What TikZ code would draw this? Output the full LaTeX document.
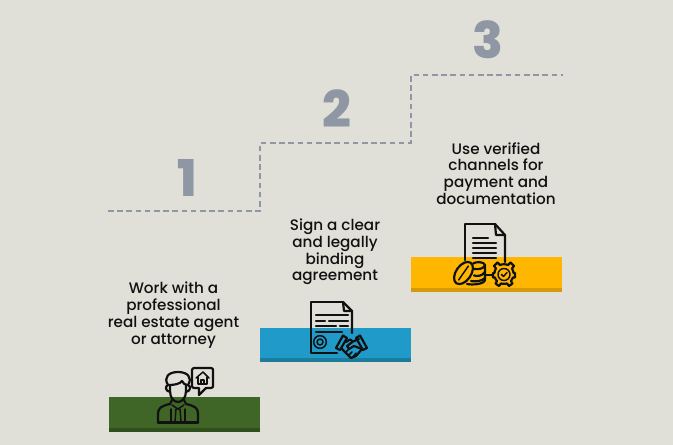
\documentclass[tikz,border=0pt]{standalone}
\usepackage{fontspec}
\setmainfont{Poppins Medium}[BoldFont={Poppins ExtraBold}]
\definecolor{bg}{HTML}{E0E0D8}
\definecolor{numgray}{HTML}{8E97A3}
\definecolor{ink}{HTML}{111111}
\definecolor{greenA}{HTML}{3F6527}
\definecolor{greenB}{HTML}{2F4F1D}
\definecolor{blueA}{HTML}{209AC8}
\definecolor{blueB}{HTML}{1C7C9C}
\definecolor{yellA}{HTML}{FFB600}
\definecolor{yellB}{HTML}{D49A0C}
\tikzset{
  x=0.75pt,y=-0.75pt,
  label text/.style={align=center,inner sep=0pt,text=ink,font=\fontsize{11.4pt}{12.6pt}\selectfont},
  big num/.style={inner sep=0pt,text=numgray,font=\fontsize{38pt}{40pt}\selectfont\bfseries},
  stair/.style={draw=numgray,line width=1.1pt,dash pattern=on 4.2pt off 2.7pt},
  bar/.style={inner sep=0pt,minimum width=113.25pt,anchor=north west},
  icon/.style={draw=ink,line width=1.65pt,line join=round,line cap=round},
  thin icon/.style={draw=ink,line width=1.1pt,line join=round,line cap=round},
}
\begin{document}
\begin{tikzpicture}
\useasboundingbox (0,0) rectangle (673,445);
\fill[bg] (0,0) rectangle (673,445);
% stairs
\coordinate (s0) at (108,211);
\coordinate (s1) at (260,211);
\coordinate (s2) at (260,143);
\coordinate (s3) at (411,143);
\coordinate (s4) at (411,75);
\coordinate (s5) at (563,75);
\draw[stair] (s0) -- (s1) -- (s2) -- (s3) -- (s4) -- (s5);
% numbers
\node[big num] (n1) at (187,178) {1};
\node[big num] (n2) at (337,109) {2};
\node[big num] (n3) at (488,40) {3};
% labels
\node[label text] (t1) at (173.5,315) {Work with a\\professional\\real estate agent\\or attorney};
\node[label text] (t2) at (335,252) {Sign a clear\\and legally\\binding\\agreement};
\node[label text] (t3) at (496,173.5) {Use verified\\channels for\\payment and\\documentation};
% bars
\node[bar,fill=greenA,minimum height=26.25pt] (b1) at (109,397) {};
\fill[greenB] (109,428) rectangle (260,432);
\node[bar,fill=blueA,minimum height=25.5pt] (b2) at (260,328) {};
\fill[blueB] (260,358) rectangle (411,362);
\node[bar,fill=yellA,minimum height=26.25pt] (b3) at (411,257) {};
\fill[yellB] (411,288) rectangle (562,292);
% person icon
\draw[icon] (158,422.5) -- (158,414) .. controls (158,408) and (161,406) .. (170,404) -- (172,400);
\draw[icon] (198,422.5) -- (198,414) .. controls (198,408) and (195,406) .. (186,404) -- (184,400);
\draw[icon] (158,422.5) -- (198,422.5);
\draw[icon] (170,385) -- (170,391) .. controls (170,398) and (174,402) .. (178,402) .. controls (182,402) and (186,398) .. (186,391) -- (186,385);
\draw[icon] (170,392) .. controls (165,391) and (165,386) .. (168,385) .. controls (163,377) and (169,372) .. (178,372) .. controls (187,372) and (193,377) .. (188,385) .. controls (191,386) and (191,391) .. (186,392);
\draw[icon] (169,385) .. controls (174,385) and (180,384) .. (182,381) .. controls (183,383) and (185,385) .. (187,385);
\draw[thin icon] (172,405) -- (178,409) -- (184,405);
\draw[thin icon] (176,409) -- (180,409) -- (181,422) -- (175,422) -- cycle;
\draw[thin icon] (171,409) -- (171,422);
\draw[thin icon] (185,409) -- (185,422);
% speech bubble with house
\draw[icon] (194,368) -- (211,368) .. controls (212.5,368) and (213,369) .. (213,370) -- (213,386) .. controls (213,387) and (212.5,388) .. (211,388) -- (206,388) -- (199,395) -- (199,388) -- (194,388) .. controls (193,388) and (192,387) .. (192,386) -- (192,370) .. controls (192,369) and (193,368) .. (194,368) -- cycle;
\draw[thin icon] (196,378) -- (203,372) -- (209,378);
\draw[thin icon] (198,377) -- (198,384) -- (207,384) -- (207,377);
\draw[thin icon] (201,384) -- (201,380) -- (204,380) -- (204,384);
% contract icon
\draw[icon] (343,302) -- (311,302) -- (311,353) -- (337,353);
\draw[icon] (343,302) -- (352,311) -- (352,333);
\draw[icon] (343,302) -- (344,311) -- (352,311);
\draw[icon] (316,315) -- (348,315);
\draw[icon] (316,321) -- (325,321) (329,321) -- (348,321);
\draw[icon] (316,326) -- (336,326) (340,326) -- (348,326);
\draw[icon] (316,332) -- (342,332);
\node[circle,draw=ink,line width=1.1pt,minimum size=9.5pt,inner sep=0pt] (seal) at (320,342) {};
\draw[thin icon] (320,342) circle (3);
% handshake
\draw[icon] (336,348) -- (343,335.5) -- (347,338) -- (340,350) -- cycle;
\draw[icon] (367,348) -- (360,335.5) -- (356,338) -- (363,350) -- cycle;
\draw[icon] (346,342) -- (350,339.5) -- (353,341.5) -- (359,339);
\draw[icon] (353,341.5) -- (347,346) -- (349,349) -- (354,346) -- (362,349);
\draw[icon] (342,349) -- (351,358) -- (356,356) -- (362,349);
\draw[thin icon] (346,352) -- (349,349) (349,355) -- (352,352) (353,357) -- (356,353);
% document icon
\draw[icon] (495,224) -- (465,224) -- (465,260);
\draw[icon] (495,224) -- (505,235) -- (505,262);
\draw[icon] (495,224) -- (496,235) -- (505,235);
\draw[icon] (473,238) -- (488,238);
\draw[icon] (473,243) -- (496,243);
\draw[icon] (473,248) -- (496,248);
\draw[icon] (473,253) -- (496,253);
\draw[icon] (473,258) -- (496,258);
% coins
\draw[icon,rotate around={55:(463.5,273)}] (463.5,273) ellipse (12.5 and 7.5);
\draw[thin icon,rotate around={55:(463.5,273)}] (455,273) -- (472,273);
\draw[icon] (473,263.5) .. controls (476,261.5) and (484,261.5) .. (485,265) .. controls (484,269) and (478,269.5) .. (474,269);
\draw[icon] (485,265) -- (485,280) .. controls (484,284.5) and (472,285) .. (467,284);
\draw[icon] (474,275.5) .. controls (478,276.5) and (482,276) .. (485,272);
\draw[icon] (471,281) .. controls (476,282) and (482,281) .. (485,278);
\draw[icon] (485,275) -- (493,275);
% gear
\draw[icon] (497.5,262.5) -- (500,265) .. controls (502,264) and (506,264) .. (508,265) -- (510.5,262.5) -- (514,266) -- (512,268.5) .. controls (513,270.5) and (513.5,272) .. (513.5,273) -- (515,273) -- (515,277.5) -- (513,277.5) .. controls (512.5,279) and (512,280) .. (511,281) -- (512.5,283.5) -- (509,286) -- (507,283.5) .. controls (505,284) and (503,284) .. (501,283.5) -- (499,286) -- (495.5,283.5) -- (497,281) .. controls (496,280) and (495,278.5) .. (495,277.5) -- (493,277.5) -- (493,273) -- (494.5,273) .. controls (494.5,271.5) and (495,270) .. (496,268.5) -- (494,266) -- cycle;
\draw[thin icon] (504,274.5) circle (6);
\draw[thin icon] (501.5,274.5) -- (503.5,276.5) -- (507,272.5);
\end{tikzpicture}
\end{document}
